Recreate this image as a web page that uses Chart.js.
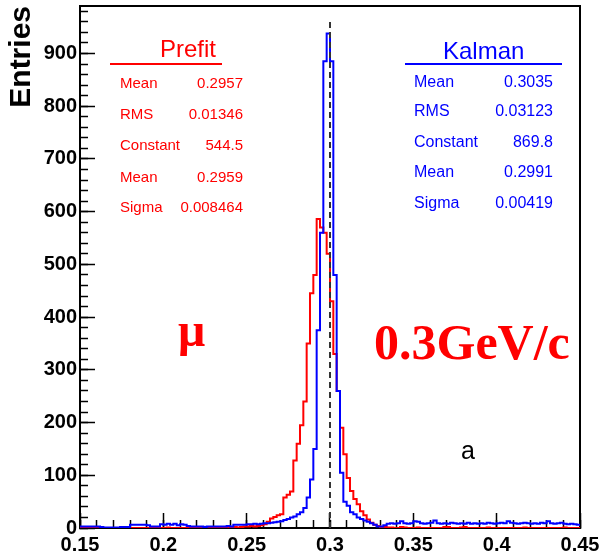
<!DOCTYPE html>
<html>
<head>
<meta charset="utf-8">
<script src="https://cdn.jsdelivr.net/npm/chart.js@4.4.1/dist/chart.umd.min.js"></script>
<style>
    html, body { margin: 0; padding: 0; background: #fff; }
    #wrap { position: relative; width: 603px; height: 556px; overflow: hidden; }
    #c { position: absolute; left: 0; top: 0; }
    .t { position: absolute; line-height: 1; white-space: nowrap; transform: translateY(-50%);
         font-family: "Liberation Sans", Arial, sans-serif; }
    .red { color: #ff0000; }
    .blue { color: #0000ff; }
    .rt { text-align: right; }
    .rule { position: absolute; height: 2px; }
    .big { font-family: "Liberation Serif", "Times New Roman", serif; font-weight: bold; }
</style>
</head>
<body>
<div id="wrap">
    <canvas id="c" width="603" height="556"></canvas>

    <!-- Prefit stats box -->
    <div class="t red" style="left:160px; top:49px; font-size:24px;">Prefit</div>
    <div class="rule" style="left:110px; top:63px; width:112px; background:#ff0000;"></div>
    <div class="t red" style="left:120px; top:82px; font-size:15px;">Mean</div>
    <div class="t red" style="left:120px; top:113px; font-size:15px;">RMS</div>
    <div class="t red" style="left:120px; top:144px; font-size:15px;">Constant</div>
    <div class="t red" style="left:120px; top:176px; font-size:15px;">Mean</div>
    <div class="t red" style="left:120px; top:206px; font-size:15px;">Sigma</div>
    <div class="t red rt" style="right:360px; top:82px; font-size:15px;">0.2957</div>
    <div class="t red rt" style="right:360px; top:113px; font-size:15px;">0.01346</div>
    <div class="t red rt" style="right:360px; top:144px; font-size:15px;">544.5</div>
    <div class="t red rt" style="right:360px; top:176px; font-size:15px;">0.2959</div>
    <div class="t red rt" style="right:360px; top:206px; font-size:15px;">0.008464</div>

    <!-- Kalman stats box -->
    <div class="t blue" style="left:443px; top:51px; font-size:24px;">Kalman</div>
    <div class="rule" style="left:405px; top:63px; width:157px; background:#0000ff;"></div>
    <div class="t blue" style="left:414px; top:82px; font-size:16px;">Mean</div>
    <div class="t blue" style="left:414px; top:111px; font-size:16px;">RMS</div>
    <div class="t blue" style="left:414px; top:142px; font-size:16px;">Constant</div>
    <div class="t blue" style="left:414px; top:172px; font-size:16px;">Mean</div>
    <div class="t blue" style="left:414px; top:203px; font-size:16px;">Sigma</div>
    <div class="t blue rt" style="right:50px; top:82px; font-size:16px;">0.3035</div>
    <div class="t blue rt" style="right:50px; top:111px; font-size:16px;">0.03123</div>
    <div class="t blue rt" style="right:50px; top:142px; font-size:16px;">869.8</div>
    <div class="t blue rt" style="right:50px; top:172px; font-size:16px;">0.2991</div>
    <div class="t blue rt" style="right:50px; top:203px; font-size:16px;">0.00419</div>

    <!-- big labels -->
    <div class="t red big" style="left:178px; top:330px; font-size:48px;">μ</div>
    <div class="t red big" style="left:374px; top:342px; font-size:50px;">0.3GeV/c</div>
    <div class="t" style="left:461px; top:450px; font-size:25px; color:#000;">a</div>
</div>

<script>
    // histogram binning (0.15 .. 0.45, 150 bins)
    var binStart = 0.15;
    var binWidth = 0.002;

    // Prefit entries per bin
    var prefitCounts = [
        0, 0, 0, 0, 0, 0, 0, 0, 0, 0,
        0, 0, 0, 0, 1, 0, 0, 0, 0, 0,
        0, 0, 0, 0, 0, 0, 1, 0, 0, 0,
        0, 0, 0, 0, 1, 0, 0, 0, 1, 0,
        1, 0, 2, 1, 0, 1, 2, 1, 2, 3,
        3, 4, 3, 4, 5, 7, 12, 18, 21, 24,
        26, 58, 63, 69, 128, 160, 195, 240, 350, 445,
        480, 586, 570, 560, 520, 430, 330, 260, 190, 140,
        95, 70, 55, 45, 32, 24, 16, 10, 6, 4,
        2, 2, 1, 1, 0, 0, 2, 1, 0, 0,
        0, 1, 0, 0, 0, 0, 0, 0, 0, 2,
        2, 0, 0, 0, 1, 2, 0, 0, 0, 0,
        0, 0, 1, 0, 0, 0, 0, 0, 0, 0,
        0, 0, 0, 1, 0, 0, 0, 0, 0, 0,
        0, 0, 0, 0, 0, 1, 0, 0, 0, 0
    ];

    // Kalman entries per bin
    var kalmanCounts = [
        3, 3, 3, 3, 3, 3, 2, 1, 1, 1,
        1, 1, 2, 2, 2, 6, 6, 6, 6, 6,
        5, 3, 3, 3, 7, 6, 8, 6, 8, 5,
        7, 6, 4, 3, 3, 3, 3, 2, 3, 3,
        3, 3, 3, 3, 4, 3, 6, 6, 6, 6,
        7, 7, 8, 7, 8, 9, 9, 10, 11, 12,
        13, 15, 17, 20, 22, 26, 30, 38, 58, 92,
        150, 375, 560, 885, 938, 885, 480, 260, 105, 50,
        42, 30, 26, 20, 17, 14, 12, 9, 6, 3,
        3, 5, 8, 9, 8, 9, 13, 9, 8, 9,
        13, 12, 9, 8, 9, 10, 14, 9, 8, 9,
        8, 10, 9, 8, 9, 8, 10, 8, 9, 8,
        9, 8, 10, 9, 8, 9, 10, 9, 13, 10,
        9, 8, 9, 10, 9, 8, 9, 8, 10, 9,
        13, 9, 8, 9, 10, 8, 7, 8, 7, 6
    ];

    var xTickValues = [0.15, 0.2, 0.25, 0.3, 0.35, 0.4, 0.45];
    var xTickLabels = ["0.15", "0.2", "0.25", "0.3", "0.35", "0.4", "0.45"];
    var yTickValues = [0, 100, 200, 300, 400, 500, 600, 700, 800, 900];
    var yTickLabels = ["0", "100", "200", "300", "400", "500", "600", "700", "800", "900"];

    var xMin = 0.15, xMax = 0.45, yMin = 0, yMax = 990;
    var refLineX = 0.3, refLineTop = 960;

    // turn bin contents into step points (left edge of each bin + closing edge)
    function toSteps(counts) {
        var pts = [];
        for (var i = 0; i < counts.length; i++) {
            pts.push({x: binStart + i * binWidth, y: counts[i]});
        }
        pts.push({x: binStart + counts.length * binWidth, y: counts[counts.length - 1]});
        return pts;
    }

    // fixed box sizes, and no extra label padding pushing the plot frame around
    function fixSize(w, h) {
        return function (s) {
            if (w !== null) s.width = w;
            if (h !== null) s.height = h;
            s.paddingLeft = 0; s.paddingRight = 0; s.paddingTop = 0; s.paddingBottom = 0;
        };
    }

    var tickFont = {family: "'Liberation Sans', Arial, sans-serif", size: 20, weight: 'bold'};

    var ctx = document.getElementById('c');

    var histChart = new Chart(ctx, {
        type: 'line',
        data: {
            datasets: [
                {
                    label: 'Reference',
                    data: [{x: refLineX, y: 0}, {x: refLineX, y: refLineTop}],
                    borderColor: '#333333',
                    borderWidth: 2,
                    borderDash: [6, 4],
                    pointRadius: 0,
                    order: 0
                },
                {
                    label: 'Kalman',
                    data: toSteps(kalmanCounts),
                    borderColor: '#0000ff',
                    borderWidth: 2,
                    stepped: 'before',
                    pointRadius: 0,
                    fill: false,
                    order: 1
                },
                {
                    label: 'Prefit',
                    data: toSteps(prefitCounts),
                    borderColor: '#ff0000',
                    borderWidth: 2,
                    stepped: 'before',
                    pointRadius: 0,
                    fill: false,
                    order: 2
                }
            ]
        },
        options: {
            responsive: false,
            animation: false,
            devicePixelRatio: 1,
            layout: {padding: 0, autoPadding: false},
            plugins: {
                legend: {display: false},
                tooltip: {enabled: false}
            },
            scales: {
                x: {
                    type: 'linear', position: 'bottom', weight: 1,
                    min: xMin, max: xMax,
                    afterBuildTicks: function (s) {
                        s.ticks = xTickValues.map(function (v) { return {value: v}; });
                    },
                    ticks: {
                        font: tickFont, color: '#000', padding: 20, maxRotation: 0, autoSkip: false,
                        callback: function (v, i) { return xTickLabels[i]; }
                    },
                    grid: {drawOnChartArea: false, drawTicks: true, tickLength: -15, tickColor: '#000', tickWidth: 1.5},
                    border: {display: true, color: '#000', width: 2},
                    afterFit: fixSize(null, 28)
                },
                xMinor: {
                    type: 'linear', position: 'bottom', weight: 0,
                    min: xMin, max: xMax,
                    ticks: {display: false, stepSize: 0.01, includeBounds: false},
                    grid: {drawOnChartArea: false, drawTicks: true, tickLength: -8, tickColor: '#000', tickWidth: 1.5},
                    border: {display: false},
                    afterFit: fixSize(null, 0)
                },
                xTop: {
                    type: 'linear', position: 'top',
                    min: xMin, max: xMax,
                    ticks: {display: false},
                    grid: {drawOnChartArea: false, drawTicks: false},
                    border: {display: true, color: '#000', width: 2},
                    afterFit: fixSize(null, 6)
                },
                y: {
                    type: 'linear', position: 'left', weight: 1,
                    min: yMin, max: yMax,
                    afterBuildTicks: function (s) {
                        s.ticks = yTickValues.map(function (v) { return {value: v}; });
                    },
                    ticks: {
                        font: tickFont, color: '#000', padding: 18,
                        callback: function (v, i) { return yTickLabels[i]; }
                    },
                    title: {
                        display: true, text: 'Entries', align: 'end', color: '#000',
                        font: {family: "'Liberation Sans', Arial, sans-serif", size: 30, weight: 'bold'},
                        padding: {top: 4, bottom: 0}
                    },
                    grid: {drawOnChartArea: false, drawTicks: true, tickLength: -15, tickColor: '#000', tickWidth: 1.5},
                    border: {display: true, color: '#000', width: 2},
                    afterFit: fixSize(80, null)
                },
                yMinor: {
                    type: 'linear', position: 'left', weight: 0,
                    min: yMin, max: yMax,
                    ticks: {display: false, stepSize: 20, includeBounds: false},
                    grid: {drawOnChartArea: false, drawTicks: true, tickLength: -8, tickColor: '#000', tickWidth: 1.5},
                    border: {display: false},
                    afterFit: fixSize(0, null)
                },
                yRight: {
                    type: 'linear', position: 'right',
                    min: yMin, max: yMax,
                    ticks: {display: false},
                    grid: {drawOnChartArea: false, drawTicks: false},
                    border: {display: true, color: '#000', width: 2},
                    afterFit: fixSize(23, null)
                }
            }
        }
    });
</script>
</body>
</html>
